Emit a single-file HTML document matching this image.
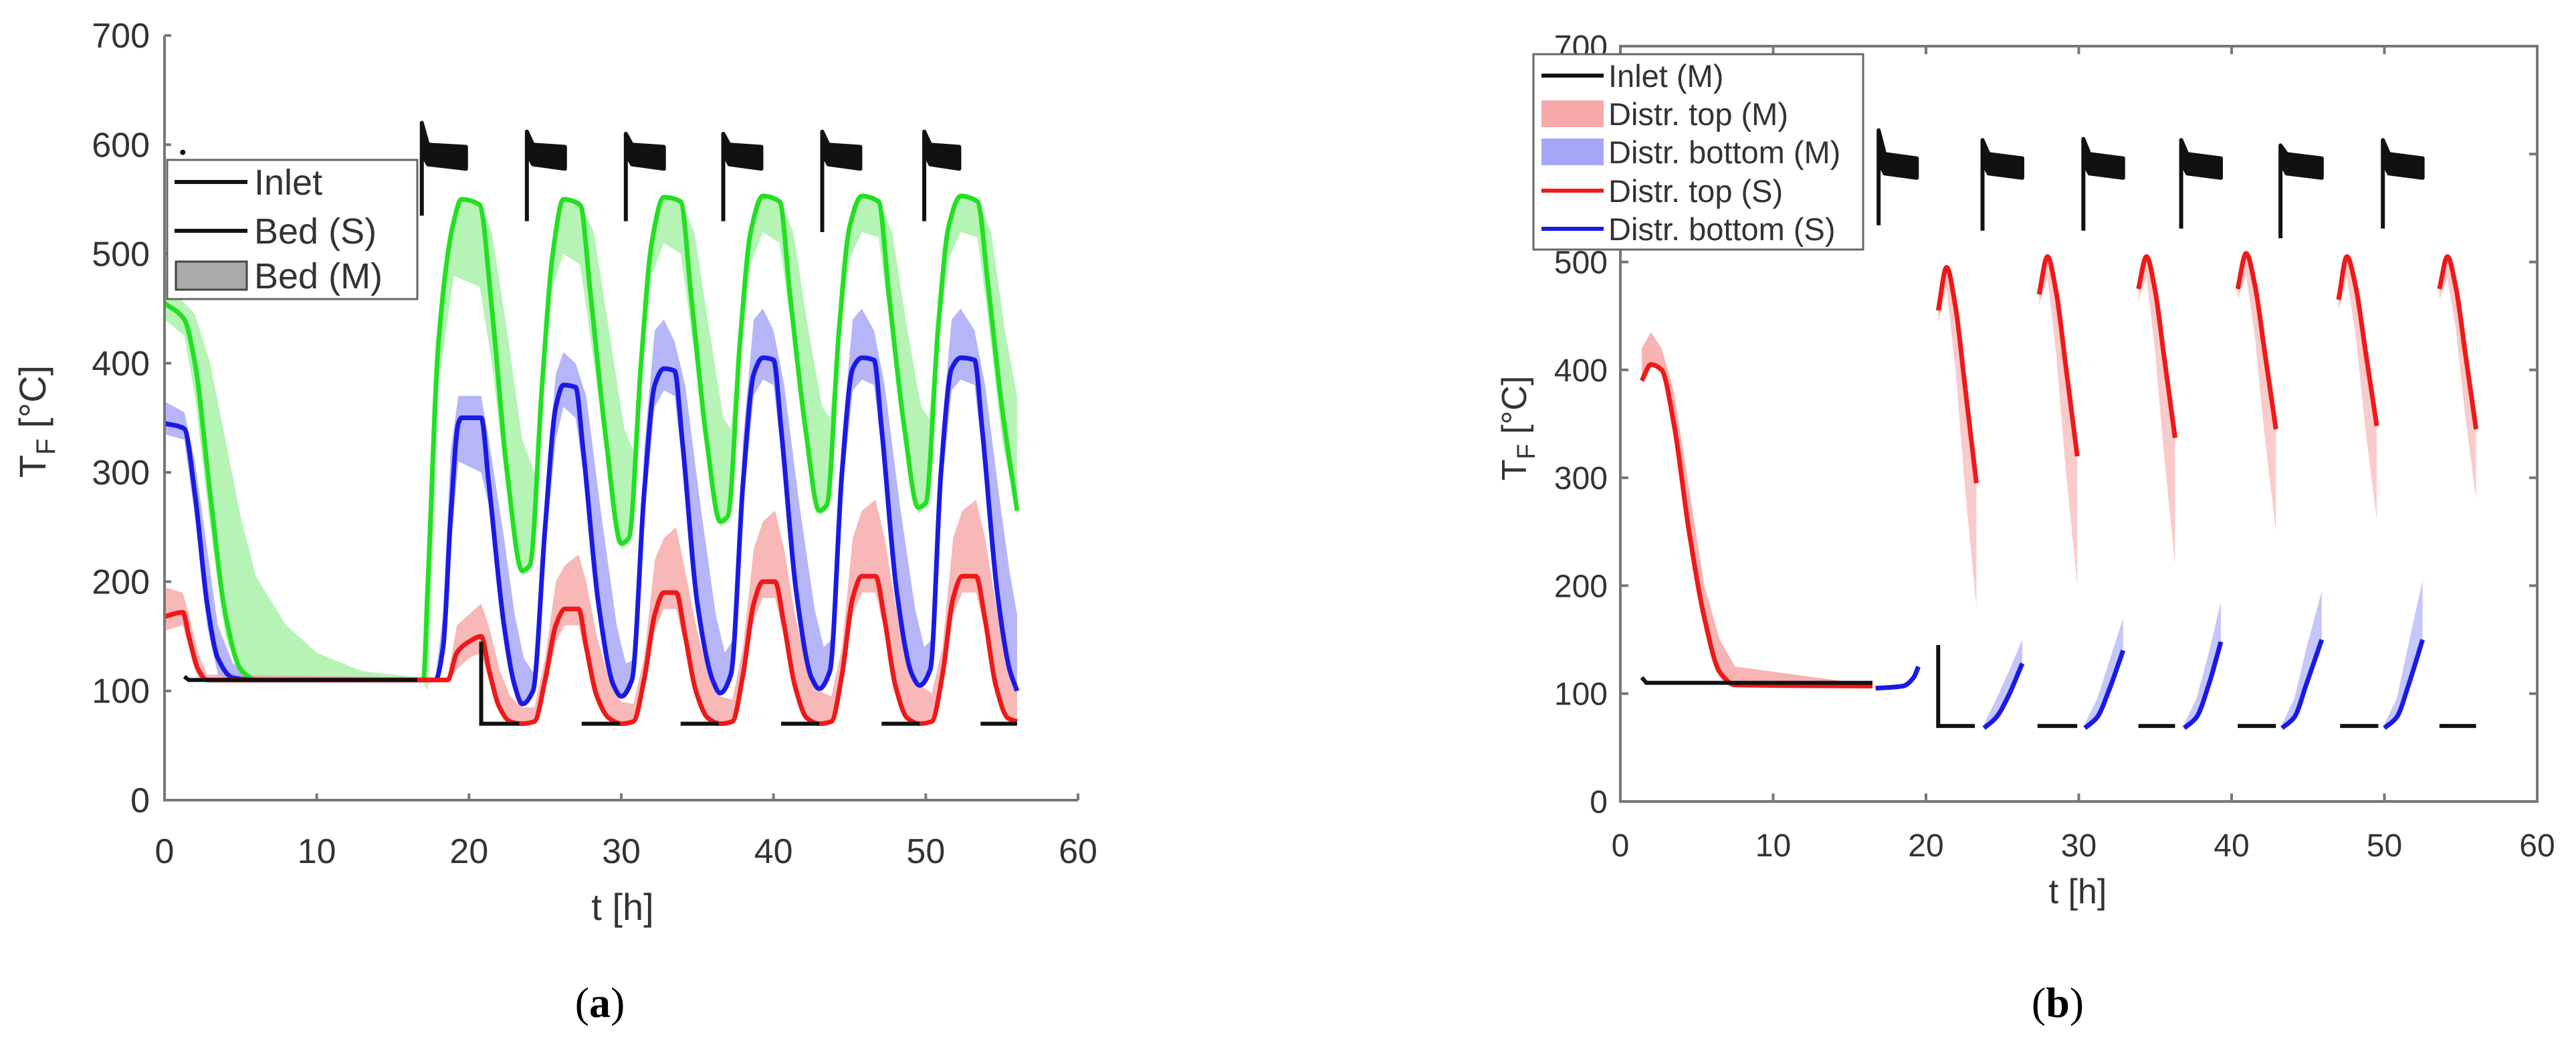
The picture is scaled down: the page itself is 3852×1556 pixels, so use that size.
<!DOCTYPE html>
<html><head><meta charset="utf-8"><style>
html,body{margin:0;padding:0;background:#fff;}
svg{display:block;}
text{font-family:"Liberation Sans",Arial,sans-serif;fill:#333;}
</style></head><body>
<svg id="fig" width="3852" height="1556" viewBox="0 0 3852 1556" xmlns="http://www.w3.org/2000/svg">
<rect width="3852" height="1556" fill="#fff"/>
<g id="chartA"></g>
<g id="chartB"></g>
<text x="897" y="1520" text-anchor="middle" style="font-family:'Liberation Serif',serif;font-size:64px;fill:#000">(<tspan font-weight="bold">a</tspan>)</text>
<text x="3077" y="1520" text-anchor="middle" style="font-family:'Liberation Serif',serif;font-size:64px;fill:#000">(<tspan font-weight="bold">b</tspan>)</text>
</svg>
<script>
// ---------- Chart A data ----------
const xTicks = [0,10,20,30,40,50,60];
const yTicks = [0,100,200,300,400,500,600,700];
const aGreenT = [0,1.3,2,3,4,5,6,17,17.3,18,19,19.5,20.7,21.5,22.5,23.5,24,24.8,25.5,26.2,27.3,28,29,30,30.5,31.3,32,32.8,33.9,34.6,35.6,36.5,37,37.8,38.5,39.3,40.4,41.1,42.1,43,43.5,44.3,45,45.8,46.9,47.6,48.6,49.5,50,50.8,51.5,52.3,53.4,54.1,55,56];
const aGreenV = [455,440,400,280,170,120,110,110,200,420,530,550,545,450,300,210,215,380,500,550,545,460,330,235,240,400,510,552,548,460,330,255,260,420,520,553,548,460,340,265,270,430,525,553,548,460,340,268,272,430,525,553,548,470,360,265];
const aGreenLoT = [0,1.3,2,3,4,5,6,17,17.3,18,19,20.7,21.5,22.5,23.5,24,24.8,25.5,26.2,27.3,28,29,30,30.5,31.3,32,32.8,33.9,34.6,35.6,36.5,37,37.8,38.5,39.3,40.4,41.1,42.1,43,43.5,44.3,45,45.8,46.9,47.6,48.6,49.5,50,50.8,51.5,52.3,53.4,54.1,55,56];
const aGreenLoV = [440,425,370,250,150,112,108,108,100,380,480,470,400,280,205,210,370,470,500,490,420,320,230,235,390,480,510,500,430,320,250,255,410,490,520,510,440,330,260,265,420,495,520,515,440,330,262,268,420,495,520,515,440,330,260];
const aGreenHiT = [0,1.3,2,3,4,5,6,8,10,13,17,17.3,18,19,19.5,20.7,21.5,22.5,23.5,24.3,24.8,25.5,26.2,27.3,28.2,29.2,30.2,30.8,31.3,32,32.8,33.9,34.8,35.8,36.7,37.2,37.8,38.5,39.3,40.4,41.3,42.3,43.2,43.7,44.3,45,45.8,46.9,47.8,48.8,49.7,50.2,50.8,51.5,52.3,53.4,54.3,55.2,56];
const aGreenHiV = [480,455,445,400,330,260,205,160,135,118,112,210,440,540,552,548,520,430,330,300,390,510,552,548,520,430,340,320,410,515,554,550,520,430,350,340,425,525,555,550,520,430,360,350,435,530,555,550,520,430,360,350,435,530,555,550,520,430,370];

const aBlueT = [0,1.3,2,2.8,3.5,4.5,6,17.8,18.3,18.8,19.3,19.5,20.8,21.3,22.3,23,23.5,24.2,25,25.7,26.2,27,27.5,28.5,29.5,30,30.7,31.5,32.2,32.8,33.5,34,35,36,36.5,37.2,38,38.7,39.3,40,40.5,41.5,42.5,43,43.7,44.5,45.2,45.8,46.6,47.1,48.1,49.1,49.6,50.3,51,51.7,52.3,53.2,53.7,54.7,55.5,56];
const aBlueV = [345,340,280,180,130,112,110,110,140,260,345,350,350,290,160,105,88,100,250,360,380,378,320,180,105,95,110,280,380,395,393,330,180,110,98,115,290,390,405,403,340,190,112,102,118,300,395,405,403,340,190,115,105,120,300,395,405,403,340,190,120,100];
const aBlueHiT = [0,1.3,2,2.8,3.5,4.5,6,17.8,18.3,18.8,19.3,20.8,21.3,22.3,23,23.6,24.3,25,25.7,26.2,27,27.7,28.7,29.7,30.3,31,31.5,32.2,32.8,33.5,34.2,35.2,36.2,36.8,37.5,38,38.7,39.3,40,40.7,41.7,42.7,43.3,44,44.5,45.2,45.8,46.6,47.3,48.3,49.3,49.9,50.6,51,51.7,52.3,53.2,53.9,54.9,55.5,56];
const aBlueHiV = [365,355,310,230,160,125,112,112,170,320,370,370,330,240,170,130,115,280,390,410,400,370,260,160,125,130,320,430,440,420,380,270,170,135,150,330,440,450,430,380,270,175,140,150,330,440,450,430,380,270,175,140,150,330,440,450,430,380,270,210,170];
const aBlueLoT = [0,1.3,2,2.8,3.5,4.5,17.8,18.3,18.8,19.3,20.8,21.3,22.3,23,23.5,24.2,25,25.7,26.2,27,27.5,28.5,29.5,30,30.7,31.5,32.2,32.8,33.5,34,35,36,36.5,37.2,38,38.7,39.3,40,40.5,41.5,42.5,43,43.7,44.5,45.2,45.8,46.6,47.1,48.1,49.1,49.6,50.3,51,51.7,52.3,53.2,53.7,54.7,55.5,56];
const aBlueLoV = [335,330,260,160,115,108,108,125,230,310,300,270,150,100,88,95,230,330,360,350,300,170,100,93,105,260,360,375,370,310,170,105,96,110,270,370,385,380,320,180,108,100,112,280,375,385,380,320,180,110,102,115,280,375,385,380,320,180,115,98];

const aRedT = [0,1.2,1.6,2.2,2.8,18.6,19.2,20,20.8,21.3,22,22.7,23.5,24.3,25,25.7,26.3,27.2,27.7,28.4,29.2,30,30.8,31.5,32.2,32.8,33.6,34.2,34.9,35.7,36.5,37.3,38,38.7,39.3,40.1,40.7,41.4,42.2,43,43.8,44.5,45.2,45.8,46.7,47.3,48,48.8,49.6,50.4,51.1,51.8,52.4,53.3,53.9,54.6,55.4,56];
const aRedV = [168,172,150,120,110,110,135,145,150,120,85,72,70,72,110,160,175,175,140,95,75,70,72,110,170,190,190,150,100,75,70,72,115,180,200,200,160,105,75,70,72,115,185,205,205,165,105,75,70,72,115,185,205,205,165,105,75,72];
const aRedHiV = [195,190,170,135,115,112,160,170,180,160,120,95,85,85,130,200,215,225,200,150,110,90,88,130,220,240,250,210,160,115,95,92,140,230,255,265,230,170,120,100,95,140,240,265,275,240,180,125,105,98,140,240,265,275,240,180,120,100];
const aRedLoV = [155,160,140,112,108,108,120,130,135,110,80,70,68,70,100,145,160,160,130,92,73,68,70,100,155,175,175,140,98,73,68,70,105,165,185,185,150,102,73,68,70,105,170,190,190,155,102,73,68,70,105,170,190,190,155,102,73,70];

const aHotStart = [16.9,23.8,30.3,36.7,43.2,49.9];
const aHotEnd = [19.8,26.3,32.8,39.2,45.7,52.2];
const aHotBottom = [535,530,530,530,520,530];
const aHotTop = [620,612,610,610,612,612];
const aColdStart = [20.8,27.4,33.9,40.5,47.1,53.6];
const aColdEnd = [23.3,29.9,36.4,43.0,49.6,56.0];
const aColdValue = [70,70,70,70,70,70];
const aInletT = [1.3,1.6,16.6];
const aInletV = [113,110,110];

// ---------- Chart B data ----------
const bRedT0 = [1.4,2,2.7,3.5,4.5,5.5,6.5,7.5,16.5];
const bRedV0 = [390,405,400,350,250,170,120,108,107];
const bBandHi0 = [420,435,420,380,290,200,150,125,108];
const bCycStart = [20.8,27.4,33.9,40.4,47.0,53.6];
const bCycEnd = [23.3,29.9,36.3,42.9,49.5,56.0];
const bRedStartV = [455,470,475,475,465,475];
const bRedPeakV = [495,505,505,508,505,505];
const bRedEndV = [295,320,337,345,348,345];
const bBandEndV = [180,200,220,250,260,280];
const bHotStart = [16.9,23.7,30.3,36.7,43.2,49.9];
const bHotEnd = [19.4,26.3,32.9,39.3,45.9,52.5];
const bHotBottom = [534,529,529,531,522,531];
const bHotTop = [622,613,614,613,608,613];
const bColdStart = [20.8,27.3,33.9,40.4,47.1,53.6];
const bColdEnd = [23.2,29.9,36.3,42.9,49.6,56.0];
const bColdValue = [70,70,70,70,70,70];
const bBlueStart = [23.8,30.4,36.9,43.3,50.0];
const bBlueEnd = [26.3,32.9,39.3,45.9,52.5];
const bBlueEndV = [128,140,148,150,150];
const bBlueBandEndV = [150,170,185,195,205];
const bBlueFlatT = [16.7,18.5,19.2,19.5];
const bBlueFlatV = [105,107,115,125];
const bInletT = [1.4,1.7,16.5];
const bInletV = [115,110,110];

const NS = "http://www.w3.org/2000/svg";
function mk(parent, tag, attrs){
  const e = document.createElementNS(NS, tag);
  for (const k in attrs) e.setAttribute(k, attrs[k]);
  parent.appendChild(e); return e;
}
// monotone cubic (Fritsch-Carlson) in screen coords
function smooth(p){
  const n = p.length;
  if (n < 2) return "";
  const dx = [], m = [], s = [];
  for (let i = 0; i < n-1; i++){ dx[i] = p[i+1][0]-p[i][0]; s[i] = (p[i+1][1]-p[i][1]) / (dx[i] || 1e-6); }
  m[0] = s[0]; m[n-1] = s[n-2];
  for (let i = 1; i < n-1; i++){
    if (s[i-1]*s[i] <= 0) m[i] = 0;
    else { const w1 = 2*dx[i]+dx[i-1], w2 = dx[i]+2*dx[i-1]; m[i] = (w1+w2)/(w1/s[i-1]+w2/s[i]); }
  }
  let d = "M" + p[0][0].toFixed(1) + "," + p[0][1].toFixed(1);
  for (let i = 0; i < n-1; i++){
    const h = dx[i]/3;
    d += "C" + (p[i][0]+h).toFixed(1) + "," + (p[i][1]+m[i]*h).toFixed(1) + " " + (p[i+1][0]-h).toFixed(1) + "," + (p[i+1][1]-m[i+1]*h).toFixed(1) + " " + p[i+1][0].toFixed(1) + "," + p[i+1][1].toFixed(1);
  }
  return d;
}
function pts(ts, vs, X, Y){ return ts.map((t,i)=>[X(t), Y(vs[i])]); }
function band(hiPts, loPts){
  let d = "M" + hiPts.map(p=>p[0].toFixed(1)+","+p[1].toFixed(1)).join("L");
  d += "L" + loPts.slice().reverse().map(p=>p[0].toFixed(1)+","+p[1].toFixed(1)).join("L") + "Z";
  return d;
}

// ---------- Draw chart A ----------
(function(){
  const g = document.getElementById("chartA");
  const X = t => 246 + t * (1612-246)/60;
  const Y = v => 1196 - v * (1196-53)/700;
  let e;
  e = mk(g, "path", {d: band(pts(aGreenHiT,aGreenHiV,X,Y), pts(aGreenLoT,aGreenLoV,X,Y)), fill:"#9ef09e", "fill-opacity":"0.75"});
  
  
  e = mk(g, "path", {d: band(pts(aBlueHiT,aBlueHiV,X,Y), pts(aBlueLoT,aBlueLoV,X,Y)), fill:"#9c9cf4", "fill-opacity":"0.75"});
  
  
  e = mk(g, "path", {d: band(pts(aRedT,aRedHiV,X,Y), pts(aRedT,aRedLoV,X,Y)), fill:"#f6a0a0", "fill-opacity":"0.75"});
  
  
  e = mk(g, "path", {d: smooth(pts(aGreenT,aGreenV,X,Y)), fill:"none", stroke:"#22e022", "stroke-width":"7", "stroke-linejoin":"round"});
  
  
  e = mk(g, "path", {d: smooth(pts(aBlueT,aBlueV,X,Y)), fill:"none", stroke:"#1a1ae6", "stroke-width":"7", "stroke-linejoin":"round"});
  
  
  e = mk(g, "path", {d: smooth(pts(aRedT,aRedV,X,Y)), fill:"none", stroke:"#f01818", "stroke-width":"7", "stroke-linejoin":"round"});
  
  
  e = mk(g, "polyline", {points: pts(aInletT,aInletV,X,Y).map(p=>p.join(",")).join(" "), fill:"none", stroke:"#111", "stroke-width":"6"});
  
  
  for (let i = 0; i < aHotStart.length; i++){
    const s = aHotStart[i], en = aHotEnd[i];
    e = mk(g, "path", {d:"M"+X(s)+","+Y(aHotBottom[i])+"L"+X(s)+","+Y(aHotTop[i])+"L"+X(s+0.4)+","+Y(600)+"L"+X(en)+","+Y(598)+"L"+X(en)+","+Y(578)+"L"+X(s+0.4)+","+Y(582)+"L"+X(s+0.1)+","+Y(590), fill:"#111", stroke:"#111", "stroke-width":"6", "stroke-linejoin":"round"});
    
    
  }
  for (let i = 0; i < aColdStart.length; i++){
    const s = aColdStart[i];
    let d = (i===0 ? "M"+X(s)+","+Y(145)+"L"+X(s)+","+Y(aColdValue[i]) : "M"+X(s)+","+Y(aColdValue[i]));
    d += "L"+X(aColdEnd[i])+","+Y(aColdValue[i]);
    e = mk(g, "path", {d:d, fill:"none", stroke:"#111", "stroke-width":"6"});
    
    
  }
  e = mk(g, "circle", {cx: X(1.2), cy: Y(593), r:4, fill:"#111"});
  
  
  e = mk(g, "path", {d:"M246,53L246,1196L1612,1196", fill:"none", stroke:"#777", "stroke-width":"4"});
  
  
  yTicks.forEach(v=>{
    const t = mk(g, "line", {x1:246, x2:256, y1:Y(v), y2:Y(v), stroke:"#777", "stroke-width":"4"});
    
    
    const l = mk(g, "text", {x:224, y:Y(v)+18, "text-anchor":"end", "font-size":"52"});
    l.textContent = v;
    
    
  });
  xTicks.forEach(t=>{
    const k = mk(g, "line", {x1:X(t), x2:X(t), y1:1196, y2:1186, stroke:"#777", "stroke-width":"4"});
    
    
    const l = mk(g, "text", {x:X(t), y:1290, "text-anchor":"middle", "font-size":"52"});
    l.textContent = t;
    
    
  });
  e = mk(g, "text", {x:931, y:1375, "text-anchor":"middle", "font-size":"56"});
  e.textContent = "t [h]";
  
  
  e = mk(g, "text", {x:0, y:0, "text-anchor":"middle", "font-size":"56", transform:"translate(68,630) rotate(-90)"});
  e.innerHTML = 'T<tspan font-size="40" dy="14">F</tspan><tspan dy="-14"> [°C]</tspan>';
  
  
  const lg = mk(g, "g", {});
  
  
  mk(lg, "rect", {x:250, y:239, width:374, height:208, fill:"#fff", stroke:"#666", "stroke-width":"3"});
  const labs = ["Inlet","Bed (S)","Bed (M)"], ly = [272,345,412];
  labs.forEach((s,i)=>{
    let it;
    if (i<2) it = mk(lg, "line", {x1:261, x2:370, y1:ly[i], y2:ly[i], stroke:"#111", "stroke-width":"6"});
    else it = mk(lg, "rect", {x:263, y:391, width:106, height:42, fill:"#aaa", stroke:"#444", "stroke-width":"3"});
    
    
    const t = mk(lg, "text", {x:380, y:ly[i]+19, "font-size":"54", fill:"#111"});
    t.textContent = s;
    
    
  });
})();

// ---------- Draw chart B ----------
(function(){
  const g = document.getElementById("chartB");
  const X = t => 2423 + t * (3794-2423)/60;
  const Y = v => 1198 - v * (1198-69)/700;
  let e;
  e = mk(g, "path", {d: band(pts(bRedT0,bBandHi0,X,Y), pts(bRedT0,bRedV0,X,Y)), fill:"#f6a0a0", "fill-opacity":"0.8"});
  
  
  for (let i = 0; i < bCycStart.length; i++){
    const s = bCycStart[i], en = bCycEnd[i], dur = en - s;
    const pk = bRedPeakV[i], ev = bRedEndV[i];
    const ts = [s, s+0.22*dur, s+0.45*dur, s+0.7*dur, en];
    const vs = [bRedStartV[i], pk, pk-0.18*(pk-ev), pk-0.55*(pk-ev), ev];
    const bl = bBandEndV[i];
    const lo = [bRedStartV[i]-10, pk-20, pk-0.3*(pk-bl), pk-0.65*(pk-bl), bl];
    e = mk(g, "path", {d: band(pts(ts,vs,X,Y), pts(ts,lo,X,Y)), fill:"#f6a0a0", "fill-opacity":"0.55"});
    
    
    e = mk(g, "path", {d: smooth(pts(ts,vs,X,Y)), fill:"none", stroke:"#f01818", "stroke-width":"7"});
    
    
  }
  e = mk(g, "path", {d: smooth(pts(bRedT0,bRedV0,X,Y)), fill:"none", stroke:"#f01818", "stroke-width":"7"});
  
  
  e = mk(g, "path", {d: smooth(pts(bBlueFlatT,bBlueFlatV,X,Y)), fill:"none", stroke:"#1a1ae6", "stroke-width":"7"});
  
  
  for (let i = 0; i < bBlueStart.length; i++){
    const s = bBlueStart[i], en = bBlueEnd[i];
    const ts = [s, s+0.8, s+1.6, en];
    const vs = [68, 78, (68+bBlueEndV[i])/2, bBlueEndV[i]];
    const hi = [72, 95, (70+bBlueBandEndV[i])/2+10, bBlueBandEndV[i]];
    e = mk(g, "path", {d: band(pts(ts,hi,X,Y), pts(ts,vs,X,Y)), fill:"#a0a0f6", "fill-opacity":"0.6"});
    
    
    e = mk(g, "path", {d: smooth(pts(ts,vs,X,Y)), fill:"none", stroke:"#1a1ae6", "stroke-width":"7"});
    
    
  }
  e = mk(g, "polyline", {points: pts(bInletT,bInletV,X,Y).map(p=>p.join(",")).join(" "), fill:"none", stroke:"#111", "stroke-width":"6"});
  
  
  for (let i = 0; i < bHotStart.length; i++){
    const s = bHotStart[i], en = bHotEnd[i];
    e = mk(g, "path", {d:"M"+X(s)+","+Y(bHotBottom[i])+"L"+X(s)+","+Y(bHotTop[i])+"L"+X(s+0.4)+","+Y(600)+"L"+X(en)+","+Y(596)+"L"+X(en)+","+Y(578)+"L"+X(s+0.4)+","+Y(582)+"L"+X(s+0.1)+","+Y(590), fill:"#111", stroke:"#111", "stroke-width":"6", "stroke-linejoin":"round"});
    
    
  }
  for (let i = 0; i < bColdStart.length; i++){
    const s = bColdStart[i];
    let d = (i===0 ? "M"+X(s)+","+Y(145)+"L"+X(s)+","+Y(bColdValue[i]) : "M"+X(s)+","+Y(bColdValue[i]));
    d += "L"+X(bColdEnd[i])+","+Y(bColdValue[i]);
    e = mk(g, "path", {d:d, fill:"none", stroke:"#111", "stroke-width":"6"});
    
    
  }
  e = mk(g, "rect", {x:2423, y:69, width:1371, height:1129, fill:"none", stroke:"#777", "stroke-width":"4"});
  
  
  yTicks.forEach(v=>{
    const t = mk(g, "path", {d:"M2423,"+Y(v)+"h12M3794,"+Y(v)+"h-12", stroke:"#777", "stroke-width":"4"});
    
    
    const l = mk(g, "text", {x:2404, y:Y(v)+17, "text-anchor":"end", "font-size":"48"});
    l.textContent = v;
    
    
  });
  xTicks.forEach(t=>{
    const k = mk(g, "path", {d:"M"+X(t)+",1198v-12M"+X(t)+",69v12", stroke:"#777", "stroke-width":"4"});
    
    
    const l = mk(g, "text", {x:X(t), y:1280, "text-anchor":"middle", "font-size":"48"});
    l.textContent = t;
    
    
  });
  e = mk(g, "text", {x:3107, y:1350, "text-anchor":"middle", "font-size":"52"});
  e.textContent = "t [h]";
  
  
  e = mk(g, "text", {x:0, y:0, "text-anchor":"middle", "font-size":"52", transform:"translate(2282,640) rotate(-90)"});
  e.innerHTML = 'T<tspan font-size="38" dy="13">F</tspan><tspan dy="-13"> [°C]</tspan>';
  
  
  const lg = mk(g, "g", {});
  
  
  mk(lg, "rect", {x:2293, y:81, width:493, height:292, fill:"#fff", stroke:"#666", "stroke-width":"3"});
  const labs = ["Inlet (M)","Distr. top (M)","Distr. bottom (M)","Distr. top (S)","Distr. bottom (S)"];
  const ly = [113,170,227,285,342];
  const kind = ["line","patch","patch","line","line"];
  const col = ["#111","#f8a8a8","#a6a6f8","#f01818","#1a1ae6"];
  labs.forEach((s,i)=>{
    let it;
    if (kind[i]==="line") it = mk(lg, "line", {x1:2305, x2:2398, y1:ly[i], y2:ly[i], stroke:col[i], "stroke-width":"6"});
    else it = mk(lg, "rect", {x:2305, y:ly[i]-20, width:93, height:40, fill:col[i]});
    
    
    const t = mk(lg, "text", {x:2405, y:ly[i]+17, "font-size":"47", fill:"#111"});
    t.textContent = s;
    
    
  });
})();
</script>
</body></html>
